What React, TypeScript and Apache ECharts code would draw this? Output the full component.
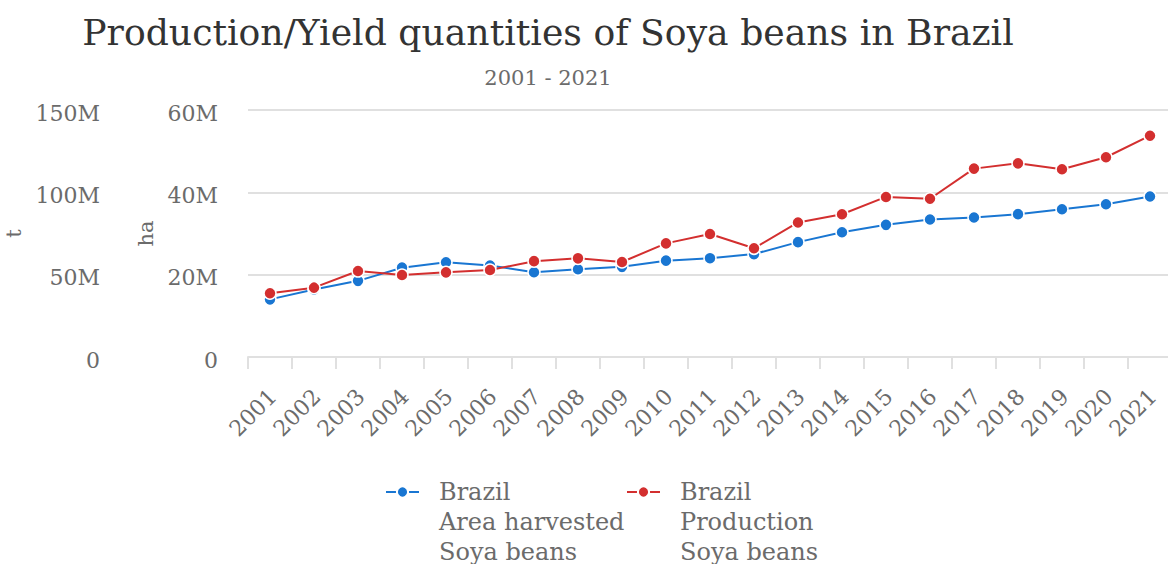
import React, { useEffect, useRef } from "react";
import * as echarts from "echarts";

// Soya beans in Brazil, 2001–2021
const years = [
  "2001", "2002", "2003", "2004", "2005", "2006", "2007", "2008", "2009", "2010", "2011",
  "2012", "2013", "2014", "2015", "2016", "2017", "2018", "2019", "2020", "2021",
];

// Area harvested, hectares (millions)
const areaHarvestedM = [
  14.0, 16.4, 18.5, 21.7, 23.0, 22.2, 20.6, 21.3, 21.9, 23.4, 24.0,
  25.0, 27.9, 30.3, 32.1, 33.4, 33.9, 34.7, 35.9, 37.1, 39.0,
];

// Production, tonnes (millions)
const productionM = [
  38.7, 42.1, 52.2, 49.8, 51.4, 52.8, 58.2, 59.9, 57.7, 69.0, 74.7,
  66.0, 81.7, 86.7, 97.2, 96.1, 114.4, 117.6, 114.0, 121.3, 134.4,
];

const areaName = "Brazil\nArea harvested\nSoya beans";
const productionName = "Brazil\nProduction\nSoya beans";

const FONT = "DejaVu Serif";
const BLUE = "#1976d2";
const RED = "#d32f2f";
const LABEL = "#6b6b6b";

const fmtM = (v: number) => (v === 0 ? "0" : `${Math.round(v / 1e6)}M`);

export default function App() {
  const ref = useRef<HTMLDivElement>(null);

  useEffect(() => {
    if (!ref.current) return;
    const chart = echarts.init(ref.current, undefined, { renderer: "svg" });

    // two blank lines ahead of the name keep the icon level with its first line
    const legendBase = {
      top: 412,
      itemWidth: 33,
      itemHeight: 14,
      formatter: (name: string) => `\n\n${name}`,
      textStyle: {
        fontFamily: FONT,
        fontSize: 24,
        color: LABEL,
        lineHeight: 30,
        padding: [0, 0, 0, 15],
      },
    };

    // value labels sit a few pixels below their grid line
    const yLabel = {
      margin: 30,
      verticalAlign: "top",
      lineHeight: 6,
      fontFamily: FONT,
      fontSize: 22,
      color: LABEL,
      formatter: fmtM,
    };

    chart.setOption({
      animation: false,
      textStyle: { fontFamily: FONT },
      title: [
        {
          text: "Production/Yield quantities of Soya beans in Brazil",
          left: 543,
          top: 9,
          textAlign: "center",
          textStyle: { fontFamily: FONT, fontSize: 36.2, fontWeight: "normal", color: "#333" },
        },
        {
          text: "2001 - 2021",
          left: 543,
          top: 62,
          textAlign: "center",
          textStyle: { fontFamily: FONT, fontSize: 21, fontWeight: "normal", color: LABEL },
        },
      ],
      legend: [
        { ...legendBase, data: [areaName], left: 380 },
        { ...legendBase, data: [productionName], left: 621 },
      ],
      grid: {
        left: 248,
        top: 110,
        width: 924,
        height: 247,
        containLabel: false,
        outerBoundsMode: "none",
      },
      xAxis: {
        type: "category",
        data: years,
        boundaryGap: true,
        axisLine: { lineStyle: { color: "#e0e0e0", width: 2 } },
        axisTick: { show: true, length: 12, lineStyle: { color: "#e0e0e0", width: 2 } },
        axisLabel: {
          rotate: 45,
          margin: 33,
          verticalAlign: "top",
          lineHeight: 8,
          interval: 0,
          fontFamily: FONT,
          fontSize: 22,
          color: LABEL,
        },
      },
      yAxis: [
        {
          type: "value",
          name: "ha",
          nameLocation: "middle",
          nameGap: 90,
          nameTextStyle: { fontFamily: FONT, fontSize: 21, color: LABEL },
          position: "left",
          min: 0,
          max: 60e6,
          interval: 20e6,
          axisLine: { show: false },
          axisTick: { show: false },
          axisLabel: yLabel,
          splitLine: { lineStyle: { color: "#e0e0e0", width: 2 } },
        },
        {
          type: "value",
          name: "t",
          nameLocation: "middle",
          nameGap: 95,
          nameTextStyle: { fontFamily: FONT, fontSize: 21, color: LABEL },
          position: "left",
          offset: 118,
          min: 0,
          max: 150e6,
          interval: 50e6,
          axisLine: { show: false },
          axisTick: { show: false },
          axisLabel: yLabel,
          splitLine: { show: false },
        },
      ],
      series: [
        {
          name: areaName,
          type: "line",
          yAxisIndex: 0,
          data: areaHarvestedM.map((v) => v * 1e6),
          symbol: "circle",
          symbolSize: 12,
          lineStyle: { color: BLUE, width: 2 },
          itemStyle: { color: BLUE, borderColor: "#fff", borderWidth: 1.5 },
        },
        {
          name: productionName,
          type: "line",
          yAxisIndex: 1,
          data: productionM.map((v) => v * 1e6),
          symbol: "circle",
          symbolSize: 12,
          lineStyle: { color: RED, width: 2 },
          itemStyle: { color: RED, borderColor: "#fff", borderWidth: 1.5 },
        },
      ],
    });

    return () => chart.dispose();
  }, []);

  return (
    <div
      ref={ref}
      style={{ position: "fixed", left: 0, top: 0, width: 1168, height: 564, background: "#fff" }}
    />
  );
}
